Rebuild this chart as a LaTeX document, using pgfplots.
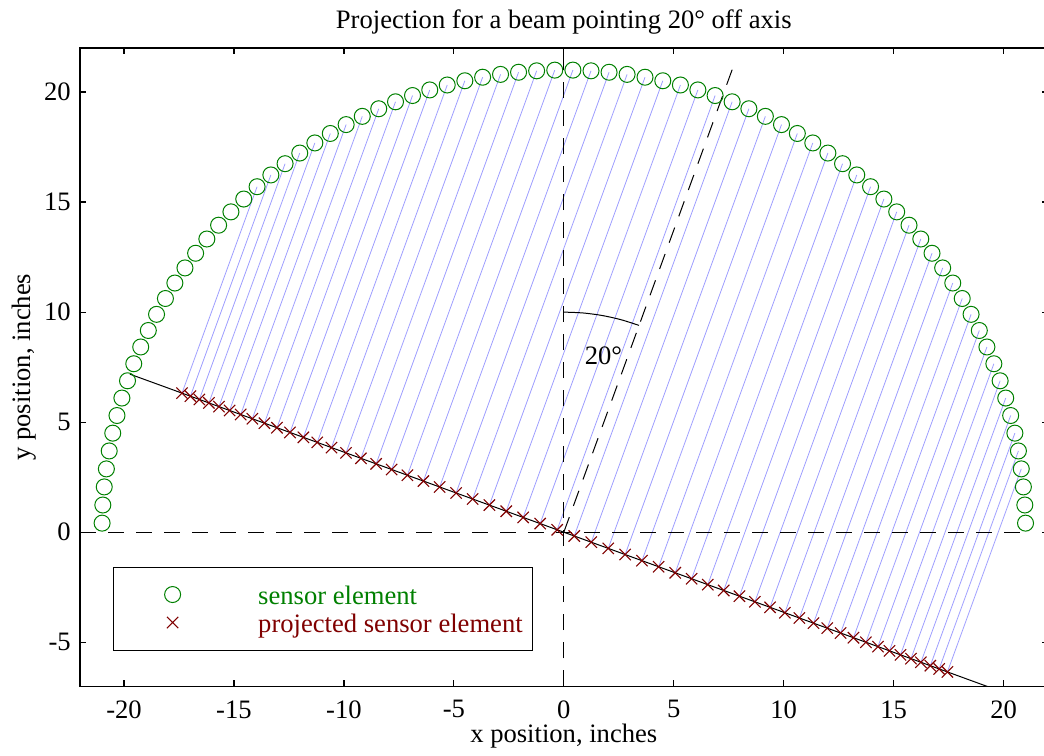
\documentclass[border=0pt]{standalone}
\usepackage{fontspec}
\setmainfont{Liberation Serif}
\usepackage{pgfplots}
\usepackage{pgfplotstable}
\pgfplotsset{compat=1.18}
\definecolor{sensgreen}{rgb}{0,0.5,0}
\definecolor{projred}{rgb}{0.5,0,0}
\definecolor{raycol}{rgb}{0.62,0.62,1}

% sensor ring, radius 21 in, 80 elements
\pgfplotstableread{
x y
20.996 0.412
20.964 1.236
20.899 2.058
20.802 2.877
20.673 3.692
20.512 4.501
20.320 5.302
20.096 6.096
19.841 6.880
19.556 7.654
19.240 8.416
18.895 9.165
18.520 9.899
18.117 10.619
17.687 11.322
17.228 12.008
16.744 12.675
16.233 13.322
15.698 13.949
15.138 14.555
14.555 15.138
13.949 15.698
13.322 16.233
12.675 16.744
12.008 17.228
11.322 17.687
10.619 18.117
9.899 18.520
9.165 18.895
8.416 19.240
7.654 19.556
6.880 19.841
6.096 20.096
5.302 20.320
4.501 20.512
3.692 20.673
2.877 20.802
2.058 20.899
1.236 20.964
0.412 20.996
-0.412 20.996
-1.236 20.964
-2.058 20.899
-2.877 20.802
-3.692 20.673
-4.501 20.512
-5.302 20.320
-6.096 20.096
-6.880 19.841
-7.654 19.556
-8.416 19.240
-9.165 18.895
-9.899 18.520
-10.619 18.117
-11.322 17.687
-12.008 17.228
-12.675 16.744
-13.322 16.233
-13.949 15.698
-14.555 15.138
-15.138 14.555
-15.698 13.949
-16.233 13.322
-16.744 12.675
-17.228 12.008
-17.687 11.322
-18.117 10.619
-18.520 9.899
-18.895 9.165
-19.240 8.416
-19.556 7.654
-19.841 6.880
-20.096 6.096
-20.320 5.302
-20.512 4.501
-20.673 3.692
-20.802 2.877
-20.899 2.058
-20.964 1.236
-20.996 0.412
}\sensors

% projected elements
\pgfplotstableread{
x y
17.444 -6.349
17.068 -6.212
16.666 -6.066
16.239 -5.910
15.786 -5.746
15.309 -5.572
14.808 -5.390
14.285 -5.199
13.739 -5.001
13.172 -4.794
12.585 -4.581
11.979 -4.360
11.354 -4.133
10.712 -3.899
10.053 -3.659
9.378 -3.413
8.689 -3.163
7.987 -2.907
7.272 -2.647
6.547 -2.383
5.811 -2.115
5.066 -1.844
4.313 -1.570
3.554 -1.293
2.789 -1.015
2.020 -0.735
1.248 -0.454
0.474 -0.172
-0.301 0.110
-1.076 0.392
-1.849 0.673
-2.618 0.953
-3.384 1.232
-4.145 1.509
-4.899 1.783
-5.646 2.055
-6.384 2.324
-7.112 2.589
-7.829 2.850
-8.534 3.106
-9.226 3.358
-9.904 3.605
-10.566 3.846
-11.213 4.081
-11.842 4.310
-12.452 4.532
-13.044 4.747
-13.615 4.955
-14.165 5.156
-14.694 5.348
-15.199 5.532
-15.682 5.708
-16.140 5.875
-16.573 6.032
-16.981 6.181
-17.363 6.319
}\projected

% rays: element -> projection, nan rows break the line
\pgfplotstableread{
x y
20.802 2.877
17.444 -6.349
nan nan
20.673 3.692
17.068 -6.212
nan nan
20.512 4.501
16.666 -6.066
nan nan
20.320 5.302
16.239 -5.910
nan nan
20.096 6.096
15.786 -5.746
nan nan
19.841 6.880
15.309 -5.572
nan nan
19.556 7.654
14.808 -5.390
nan nan
19.240 8.416
14.285 -5.199
nan nan
18.895 9.165
13.739 -5.001
nan nan
18.520 9.899
13.172 -4.794
nan nan
18.117 10.619
12.585 -4.581
nan nan
17.687 11.322
11.979 -4.360
nan nan
17.228 12.008
11.354 -4.133
nan nan
16.744 12.675
10.712 -3.899
nan nan
16.233 13.322
10.053 -3.659
nan nan
15.698 13.949
9.378 -3.413
nan nan
15.138 14.555
8.689 -3.163
nan nan
14.555 15.138
7.987 -2.907
nan nan
13.949 15.698
7.272 -2.647
nan nan
13.322 16.233
6.547 -2.383
nan nan
12.675 16.744
5.811 -2.115
nan nan
12.008 17.228
5.066 -1.844
nan nan
11.322 17.687
4.313 -1.570
nan nan
10.619 18.117
3.554 -1.293
nan nan
9.899 18.520
2.789 -1.015
nan nan
9.165 18.895
2.020 -0.735
nan nan
8.416 19.240
1.248 -0.454
nan nan
7.654 19.556
0.474 -0.172
nan nan
6.880 19.841
-0.301 0.110
nan nan
6.096 20.096
-1.076 0.392
nan nan
5.302 20.320
-1.849 0.673
nan nan
4.501 20.512
-2.618 0.953
nan nan
3.692 20.673
-3.384 1.232
nan nan
2.877 20.802
-4.145 1.509
nan nan
2.058 20.899
-4.899 1.783
nan nan
1.236 20.964
-5.646 2.055
nan nan
0.412 20.996
-6.384 2.324
nan nan
-0.412 20.996
-7.112 2.589
nan nan
-1.236 20.964
-7.829 2.850
nan nan
-2.058 20.899
-8.534 3.106
nan nan
-2.877 20.802
-9.226 3.358
nan nan
-3.692 20.673
-9.904 3.605
nan nan
-4.501 20.512
-10.566 3.846
nan nan
-5.302 20.320
-11.213 4.081
nan nan
-6.096 20.096
-11.842 4.310
nan nan
-6.880 19.841
-12.452 4.532
nan nan
-7.654 19.556
-13.044 4.747
nan nan
-8.416 19.240
-13.615 4.955
nan nan
-9.165 18.895
-14.165 5.156
nan nan
-9.899 18.520
-14.694 5.348
nan nan
-10.619 18.117
-15.199 5.532
nan nan
-11.322 17.687
-15.682 5.708
nan nan
-12.008 17.228
-16.140 5.875
nan nan
-12.675 16.744
-16.573 6.032
nan nan
-13.322 16.233
-16.981 6.181
nan nan
-13.949 15.698
-17.363 6.319
}\rays

\begin{document}
\fontsize{13.3}{15.5}\selectfont
\begin{tikzpicture}
\begin{axis}[
  scale only axis, width=483.6pt, height=319pt,
  xmin=-22, xmax=22, ymin=-7, ymax=22,
  xtick={-20,-15,...,20}, ytick={-5,0,...,20},
  xtick pos=both, ytick pos=both,
  xticklabel pos=lower, yticklabel pos=left,
  tick align=inside, major tick length=3pt,
  axis line style={line width=0.6pt},
  tick style={line width=0.6pt, black},
  /pgf/number format/assume math mode=true,
  xticklabel style={yshift=-2.5pt},
  title={Projection for a beam pointing 20° off axis},
  every axis title/.style={at={(0.5,1)}, anchor=base, yshift=10pt},
  xlabel={x position, inches},
  every axis x label/.style={at={(axis description cs:0.5,0)}, anchor=base, yshift=-28pt},
  ylabel={y position, inches},
  every axis y label/.style={at={(axis description cs:-0.0517,0.5)}, rotate=90, anchor=base},
  legend style={at={(0.0336,0.1876)}, anchor=north west,
    draw=black, line width=0.5pt, fill=white,
    inner xsep=3pt, inner ysep=6.75pt, row sep=0pt,
    nodes={text height=11.75pt, text depth=2.25pt, inner ysep=0pt}},
  legend cell align=left,
  legend image code/.code={\path (0pt,0pt) (67pt,0pt); \draw[#1] plot coordinates {(26.5pt,0pt)};},
]
\addplot[raycol, line width=0.4pt, unbounded coords=jump, forget plot] table {\rays};
\addplot[black, dash pattern=on 8pt off 6pt, line width=0.5pt, forget plot] coordinates {(-22,0) (21,0)};
\addplot[black, dash pattern=on 8pt off 6pt, line width=0.5pt, forget plot] coordinates {(0,-7) (0,22)};
\addplot[black, dash pattern=on 8pt off 6pt, line width=0.5pt, forget plot] coordinates {(0,0) (7.70,21.14)};
\addplot[black, line width=0.5pt, forget plot] coordinates {(-19.734,7.182) (19.734,-7.182)};
\addplot[black, line width=0.5pt, smooth, forget plot] coordinates {(0,10) (0.872,9.962) (1.736,9.848) (2.588,9.659) (3.420,9.397)};
\addplot[only marks, mark=o, mark size=4pt, sensgreen, line width=0.5pt] table {\sensors};
\addlegendentry{\textcolor{sensgreen}{sensor element}}
\addplot[only marks, mark=x, mark size=4pt, projred, line width=0.55pt] table {\projected};
\addlegendentry{\textcolor{projred}{projected sensor element}}
\node at (axis cs:1.8,8.0) {20°};
\end{axis}
\pgfresetboundingbox
\path ([shift={(-40pt,-34.5pt)}]current axis.south west) rectangle ([shift={(-1.8pt,24pt)}]current axis.north east);
\end{tikzpicture}
\end{document}
